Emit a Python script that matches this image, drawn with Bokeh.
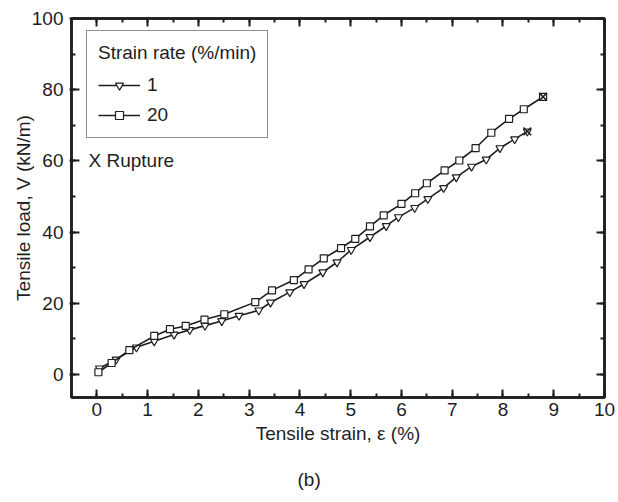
from bokeh.plotting import figure
from bokeh.models import (Range1d, LinearAxis, SingleIntervalTicker, Legend, LegendItem,
                          Label, Title, CustomLabelingPolicy)
from bokeh.embed import file_html
from bokeh.resources import INLINE

# ---- data ----
x_rate1 = [0.05, 0.38, 0.78, 1.13, 1.52, 1.83, 2.13, 2.46, 2.80, 3.19, 3.42, 3.80, 4.08, 4.45,
           4.73, 5.01, 5.38, 5.70, 5.94, 6.26, 6.52, 6.83, 7.08, 7.38, 7.67, 7.94, 8.23, 8.48]
y_rate1 = [1.7, 4.2, 7.6, 9.3, 11.2, 12.5, 13.7, 15.0, 16.5, 18.0, 20.2, 23.1, 25.4, 28.7,
           31.5, 35.0, 38.6, 41.7, 44.2, 46.8, 49.3, 52.4, 55.4, 58.4, 60.4, 63.6, 66.1, 68.3]

x_rate20 = [0.03, 0.29, 0.64, 1.13, 1.44, 1.75, 2.12, 2.51, 3.12, 3.45, 3.88, 4.17, 4.47, 4.81,
            5.09, 5.38, 5.65, 6.00, 6.27, 6.50, 6.85, 7.14, 7.46, 7.77, 8.12, 8.41, 8.79]
y_rate20 = [0.6, 3.2, 6.8, 10.8, 12.7, 13.6, 15.4, 16.9, 20.3, 23.6, 26.5, 29.5, 32.6, 35.5,
            38.1, 41.6, 44.7, 47.9, 50.9, 53.7, 57.3, 60.1, 63.6, 67.9, 71.8, 74.5, 78.0]

rate_labels = ["1", "20"]
legend_title = "Strain rate (%/min)"
rupture_text = "X Rupture"
x_label = "Tensile strain, \u03b5 (%)"
y_label = "Tensile load, V (kN/m)"
caption = "(b)"

FONT = "Liberation Sans"
FS = "19px"
INK = "#1e1e1e"

p = figure(frame_width=533, frame_height=379, output_backend="svg", toolbar_location=None,
           x_range=Range1d(-0.5, 10), y_range=Range1d(-6.5, 100),
           min_border_left=71, min_border_right=14, min_border_top=18, min_border_bottom=10,
           x_axis_type=None, y_axis_type=None)
p.background_fill_color = "white"
p.border_fill_color = "white"
p.outline_line_color = INK
p.outline_line_width = 2.5
p.xgrid.visible = False
p.ygrid.visible = False

hide_all = CustomLabelingPolicy(code="for (const i of indices) { indices.unset(i) }\nreturn indices")


def style_axis(ax, show_labels):
    ax.axis_line_color = INK
    ax.axis_line_width = 2.5
    ax.major_tick_in = 8
    ax.major_tick_out = 0
    ax.minor_tick_in = 4
    ax.minor_tick_out = 0
    ax.major_tick_line_color = INK
    ax.minor_tick_line_color = INK
    ax.major_tick_line_width = 2
    ax.minor_tick_line_width = 2
    ax.major_label_text_font = FONT
    ax.axis_label_text_font = FONT
    ax.axis_label_text_font_style = "normal"
    ax.major_label_text_color = INK
    ax.axis_label_text_color = INK
    if show_labels:
        ax.major_label_text_font_size = FS
        ax.axis_label_text_font_size = FS
    else:
        ax.major_label_text_font_size = "1px"
        ax.major_label_standoff = 0
        ax.major_label_policy = hide_all


xb = LinearAxis(ticker=SingleIntervalTicker(interval=1, num_minor_ticks=2), axis_label=x_label)
style_axis(xb, True)
xb.major_label_standoff = 5
xb.axis_label_standoff = 4
p.add_layout(xb, "below")

yl = LinearAxis(ticker=SingleIntervalTicker(interval=20, num_minor_ticks=2), axis_label=y_label)
style_axis(yl, True)
yl.major_tick_out = 2
yl.major_label_standoff = 6
yl.axis_label_standoff = -5
p.add_layout(yl, "left")

xt = LinearAxis(ticker=SingleIntervalTicker(interval=1, num_minor_ticks=2))
style_axis(xt, False)
p.add_layout(xt, "above")

yr = LinearAxis(ticker=SingleIntervalTicker(interval=20, num_minor_ticks=2))
style_axis(yr, False)
p.add_layout(yr, "right")

# ---- series ----
l1 = p.line(x_rate1, y_rate1, line_color=INK, line_width=1.6)
s1 = p.scatter(x_rate1, y_rate1, marker="inverted_triangle", size=8, line_color=INK,
               line_width=1.2, fill_color="white")
l2 = p.line(x_rate20, y_rate20, line_color=INK, line_width=1.6)
s2 = p.scatter(x_rate20, y_rate20, marker="square", size=7, line_color=INK,
               line_width=1.2, fill_color="white")

# rupture marks at the last point of each series
p.scatter([x_rate1[-1], x_rate20[-1]], [y_rate1[-1], y_rate20[-1]], marker="x", size=11,
          line_color=INK, line_width=1.5)

legend = Legend(items=[LegendItem(label=rate_labels[0], renderers=[l1, s1]),
                       LegendItem(label=rate_labels[1], renderers=[l2, s2])],
                title=legend_title, location=(15, 259))
legend.title_text_font = FONT
legend.title_text_font_size = FS
legend.title_text_font_style = "normal"
legend.title_text_color = INK
legend.title_standoff = 10
legend.label_text_font = FONT
legend.label_text_font_size = FS
legend.label_text_color = INK
legend.border_line_color = INK
legend.border_line_width = 1.5
legend.background_fill_alpha = 1
legend.padding = 11
legend.spacing = 8
legend.glyph_width = 42
legend.glyph_height = 20
legend.label_height = 20
legend.label_standoff = 7
legend.margin = 0
p.add_layout(legend, "center")

p.add_layout(Label(x=17, y=237, x_units="screen", y_units="screen", text=rupture_text,
                   text_font=FONT, text_font_size=FS, text_color=INK,
                   text_baseline="middle"))

cap = Title(text=caption, align="left", offset=226, text_font=FONT, text_font_size=FS,
            text_font_style="normal", text_color=INK, standoff=40)
p.add_layout(cap, "below")

open("out.html", "w").write(file_html(p, INLINE))
